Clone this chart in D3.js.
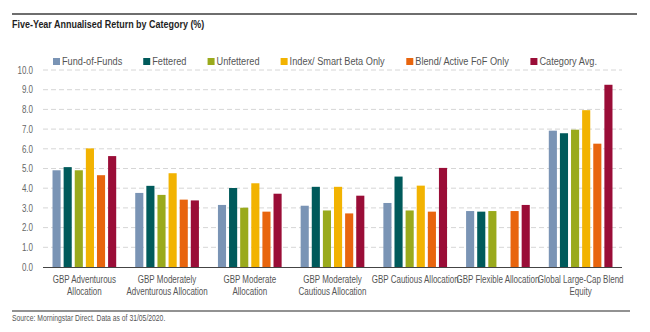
<meta charset="utf-8">
<style>
	body { margin: 0; background: #fff; }
	svg text { font-family: "Liberation Sans", Arial, sans-serif; }
</style>
<svg width="650" height="332" id="chart"></svg>
<script src="https://cdn.jsdelivr.net/npm/d3@7/dist/d3.min.js"></script>
<script>
	var categories = [
		"GBP Adventurous|Allocation",
		"GBP Moderately|Adventurous Allocation",
		"GBP Moderate|Allocation",
		"GBP Moderately|Cautious Allocation",
		"GBP Cautious Allocation",
		"GBP Flexible Allocation",
		"Global Large-Cap Blend|Equity"
	];
	var seriesNames = ["Fund-of-Funds", "Fettered", "Unfettered", "Index/ Smart Beta Only", "Blend/ Active FoF Only", "Category Avg."];
	var fundOfFunds = [4.91, 3.76, 3.15, 3.11, 3.25, 2.84, 6.92];
	var fettered    = [5.07, 4.12, 4.01, 4.07, 4.59, 2.81, 6.79];
	var unfettered  = [4.91, 3.66, 3.01, 2.87, 2.87, 2.84, 6.97];
	var indexBeta   = [6.02, 4.76, 4.25, 4.07, 4.13, null, 7.96];
	var blendActive = [4.66, 3.42, 2.81, 2.72, 2.81, 2.84, 6.26];
	var categoryAvg = [5.63, 3.38, 3.72, 3.62, 5.03, 3.15, 9.25];
	var yTicks = [0, 1, 2, 3, 4, 5, 6, 7, 8, 9, 10];

	var colors = ["#7a94b5", "#005a5b", "#9aaa1c", "#f2b301", "#e8650e", "#9a0d37"];
	var seriesValues = [fundOfFunds, fettered, unfettered, indexBeta, blendActive, categoryAvg];

	var NARROW = 0.8; // fake a condensed face, no narrow font installed

	function narrowText(parent, x, y, txt, size, fill, sx) {
		var g = parent.append("g").attr("transform", "translate(" + x + "," + y + ") scale(" + (sx || NARROW) + ",1)");
		return g.append("text").attr("font-size", size).attr("fill", fill).text(txt);
	}

	var svg = d3.select("#chart");
	var plot = {left: 43, right: 622, top: 70, bottom: 267};

	// top rule + title
	svg.append("line").attr("x1", 12).attr("x2", 637).attr("y1", 14).attr("y2", 14)
		.attr("stroke", "#6e6e6e").attr("stroke-width", 2);
	narrowText(svg, 12, 28, "Five-Year Annualised Return by Category (%)", 11.8, "#1e1e1e", 0.76)
		.attr("font-weight", "bold");

	var y = d3.scaleLinear().domain([0, 10]).range([plot.bottom, plot.top]);
	var x0 = d3.scaleBand().domain(categories).range([plot.left, plot.right])
		.paddingInner(0.23).paddingOuter(0.115);
	var x1 = d3.scaleBand().domain(seriesNames).range([0, x0.bandwidth()]).paddingInner(0.27);

	// grid
	svg.append("g").selectAll("line").data(yTicks.filter(function(d) { return d > 0; }))
		.enter().append("line")
		.attr("x1", plot.left).attr("x2", plot.right)
		.attr("y1", function(d) { return y(d); }).attr("y2", function(d) { return y(d); })
		.attr("stroke", "#d6d6d6").attr("stroke-dasharray", "5,3");

	// y axis labels
	var yAxis = d3.axisLeft(y).tickValues(yTicks).tickFormat(d3.format(".1f")).tickSize(0).tickPadding(10);
	var gy = svg.append("g").attr("transform", "translate(" + plot.left + ",0)").call(yAxis);
	gy.select(".domain").remove();
	gy.selectAll("text").attr("font-size", 10).attr("fill", "#666")
		.attr("font-family", "\"Liberation Sans\", sans-serif")
		.attr("x", 0).attr("transform", "translate(-10,0) scale(" + NARROW + ",1)");

	// bars
	var groups = svg.append("g").selectAll("g").data(categories).enter().append("g")
		.attr("transform", function(d) { return "translate(" + x0(d) + ",0)"; });
	groups.selectAll("rect")
		.data(function(d, i) {
			return seriesNames.map(function(s, j) { return {s: s, j: j, v: seriesValues[j][i]}; })
				.filter(function(e) { return e.v !== null; });
		})
		.enter().append("rect")
		.attr("x", function(d) { return x1(d.s); })
		.attr("width", x1.bandwidth())
		.attr("y", function(d) { return y(d.v); })
		.attr("height", function(d) { return y(0) - y(d.v); })
		.attr("fill", function(d) { return colors[d.j]; });

	// baseline
	svg.append("line").attr("x1", plot.left).attr("x2", plot.right)
		.attr("y1", plot.bottom + 0.5).attr("y2", plot.bottom + 0.5)
		.attr("stroke", "#444").attr("stroke-width", 1);

	// category labels
	var labels = svg.append("g");
	categories.forEach(function(d) {
		var t = narrowText(labels, x0(d) + x0.bandwidth() / 2, 283, "", 10, "#555")
			.attr("text-anchor", "middle");
		d.split("|").forEach(function(line, k) {
			t.append("tspan").attr("x", 0).attr("dy", k ? 12 : 0).text(line);
		});
	});

	// legend
	var legend = svg.append("g");
	var items = legend.selectAll("g").data(seriesNames).enter().append("g");
	items.append("rect").attr("width", 7).attr("height", 7).attr("y", -7)
		.attr("fill", function(d, i) { return colors[i]; });
	items.each(function(d) { narrowText(d3.select(this), 9, 0, d, 11.5, "#555"); });
	var widths = [];
	items.each(function() { widths.push(this.getBBox().width); });
	var legStart = 53, legEnd = 597;
	var gap = (legEnd - legStart - d3.sum(widths)) / (widths.length - 1);
	var pos = legStart;
	items.attr("transform", function(d, i) {
		var p = pos; pos += widths[i] + gap;
		return "translate(" + p + ",65)";
	});

	// bottom rule + source
	svg.append("line").attr("x1", 12).attr("x2", 630).attr("y1", 311).attr("y2", 311)
		.attr("stroke", "#6e6e6e").attr("stroke-width", 1.5);
	narrowText(svg, 12, 321, "Source: Morningstar Direct. Data as of 31/05/2020.", 8.5, "#555");
</script>
